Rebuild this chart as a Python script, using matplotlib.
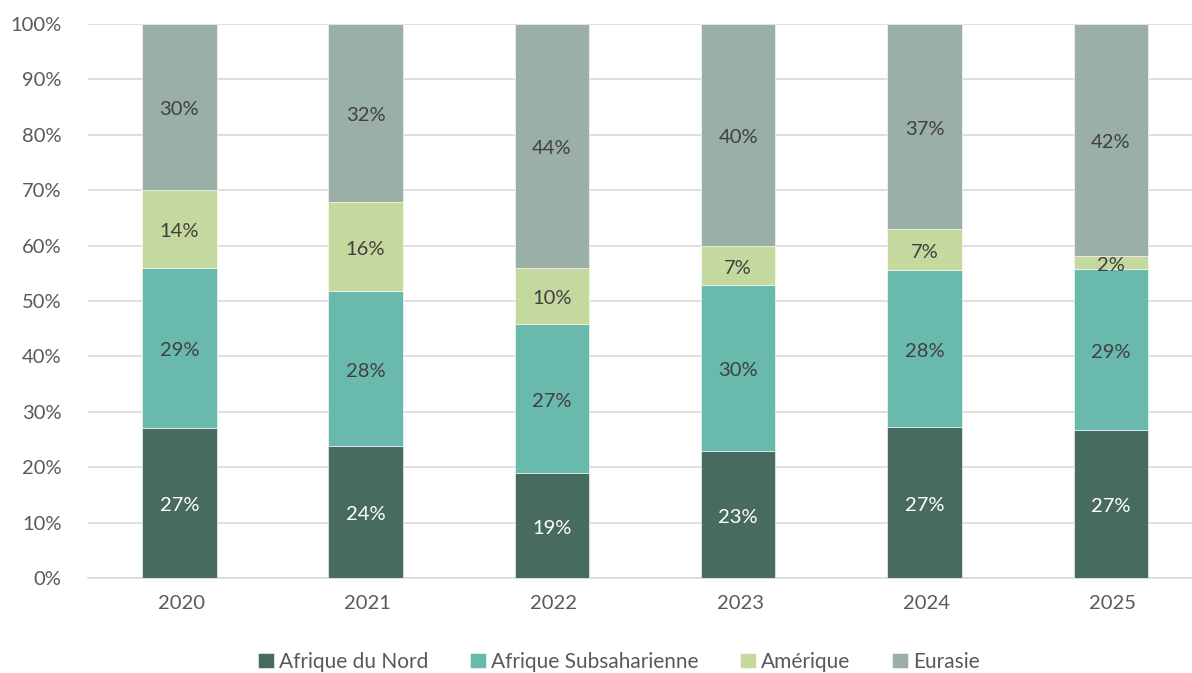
import numpy as np
import matplotlib
matplotlib.use('Agg')
import matplotlib.pyplot as plt

years = ['2020', '2021', '2022', '2023', '2024', '2025']
series = ['Afrique du Nord', 'Afrique Subsaharienne', 'Amérique', 'Eurasie']
nord = [27.1, 23.8, 19.0, 22.9, 27.3, 26.7]
subsah = [28.9, 28.0, 26.8, 30.0, 28.3, 29.1]
amerique = [14.0, 16.1, 10.2, 7.0, 7.4, 2.3]
eurasie = [30.0, 32.1, 44.0, 40.1, 37.0, 41.9]

colors = ['#486B5F', '#69BAAD', '#C5D89D', '#9AAFA5']
label_colors = ['white', '#404040', '#404040', '#404040']

plt.rcParams['font.family'] = ['Lato', 'DejaVu Sans']

fig = plt.figure(figsize=(11.92, 6.73), dpi=100)
ax = fig.add_axes([88 / 1192, 1 - 578 / 673, 1 - 88 / 1192, 554 / 673])

x = np.arange(len(years))
data = np.array([nord, subsah, amerique, eurasie])
data = data / data.sum(axis=0) * 100
bottom = np.zeros(len(years))
for vals, name, col, lc in zip(data, series, colors, label_colors):
    ax.bar(x - 0.01, vals, 0.4, bottom=bottom, color=col, label=name,
           edgecolor='white', linewidth=0.4, zorder=3)
    for xi, b, v in zip(x, bottom, vals):
        ax.text(xi - 0.01, b + v / 2 - 0.5, '%d%%' % round(v), ha='center', va='center',
                color=lc, fontsize=14.5, zorder=4)
    bottom += vals

ax.set_ylim(0, 100)
ax.set_xlim(-0.5, -0.5 + (1192 - 88) / 186.3)
ax.set_yticks(np.arange(0, 101, 10))
ax.set_yticklabels(['%d%%' % v for v in range(0, 101, 10)])
ax.set_xticks(x)
ax.set_xticklabels(years)
ax.tick_params(axis='both', length=0, labelsize=14.5, colors='#595959')
ax.tick_params(axis='x', pad=12)
ax.tick_params(axis='y', pad=19)
ax.grid(axis='y', color='#D9D9D9', linewidth=1.2, zorder=0)
for s in ['top', 'right', 'left']:
    ax.spines[s].set_visible(False)
ax.spines['bottom'].set_color('#D9D9D9')
ax.spines['bottom'].set_linewidth(1.2)

leg = fig.legend(loc='center', bbox_to_anchor=(619 / 1192, 1 - 662 / 673), ncol=4,
                 frameon=False, fontsize=15, handlelength=0.75, handleheight=0.75,
                 handletextpad=0.25, columnspacing=2.0)
for t in leg.get_texts():
    t.set_color('#595959')

fig.savefig('out.png', dpi=100)
